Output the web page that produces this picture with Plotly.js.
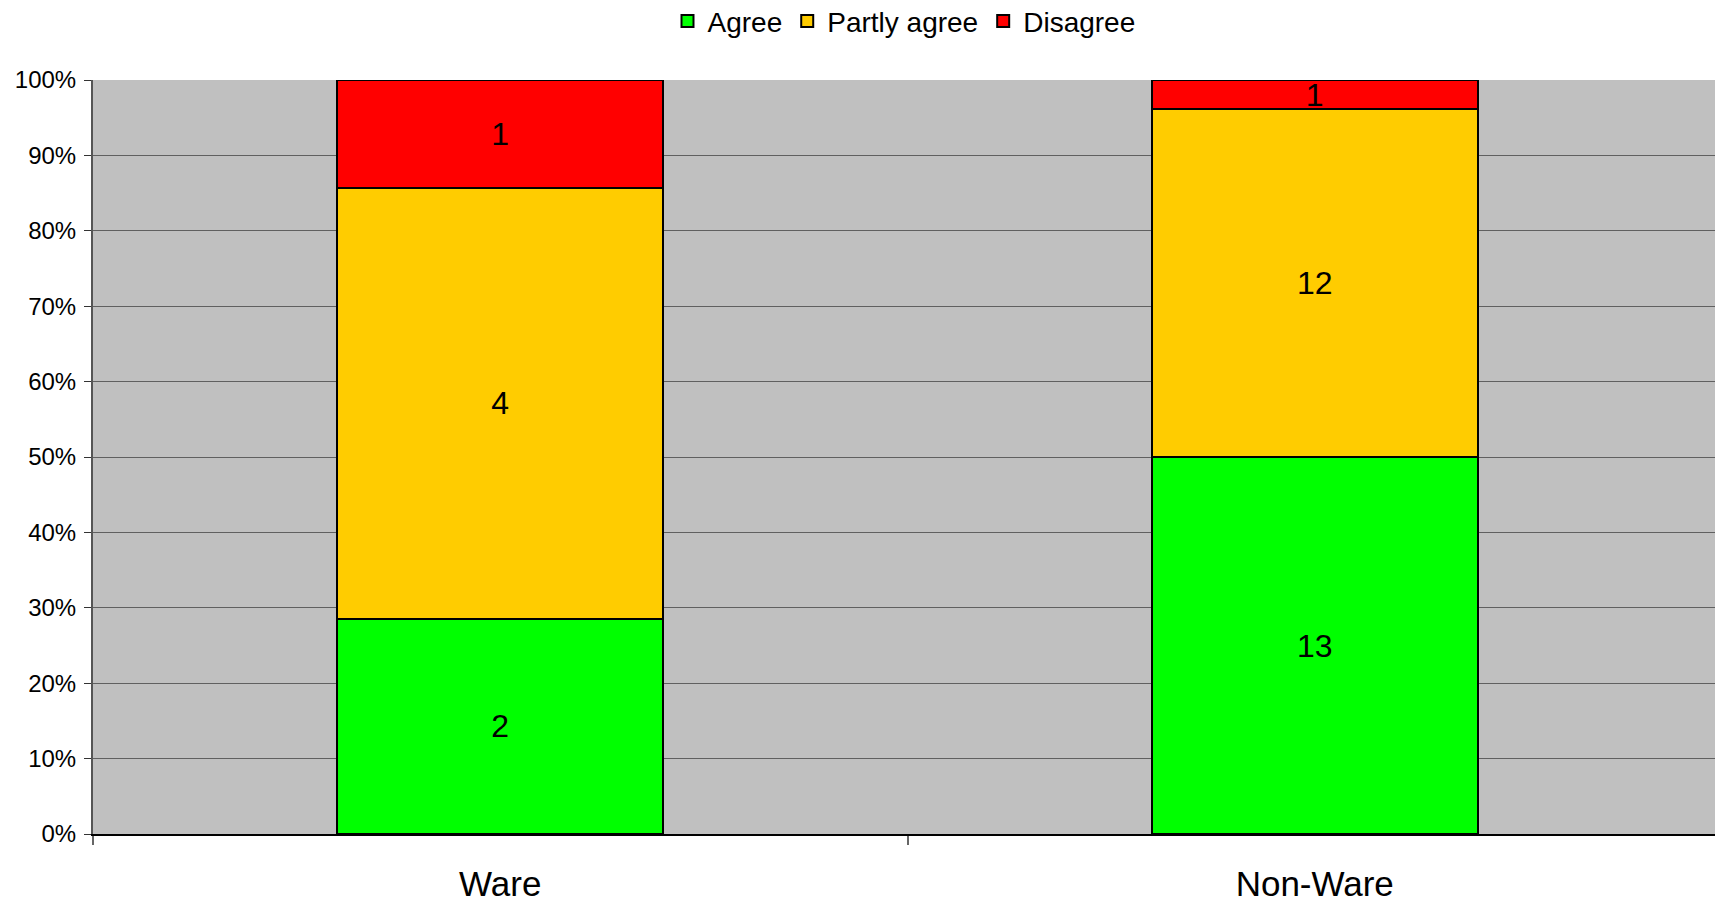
<!DOCTYPE html>
<html>
<head>
<meta charset="utf-8">
<script src="https://cdn.plot.ly/plotly-3.0.1.min.js"></script>
<style>html,body{margin:0;padding:0;background:#fff;}#chart{width:1715px;height:902px;}</style>
</head>
<body>
<div id="chart"></div>
<script>
const categories = ["Ware", "Non-Ware"];
const seriesNames = ["Agree", "Partly agree", "Disagree"];
const agree = [2, 13];
const partlyAgree = [4, 12];
const disagree = [1, 1];
const seriesColors = ["#00FF00", "#FFCC00", "#FF0000"];
const yTickVals = [0, 10, 20, 30, 40, 50, 60, 70, 80, 90, 100];

const seriesValues = [agree, partlyAgree, disagree];
const traces = seriesValues.map((vals, i) => ({
  type: "bar",
  name: seriesNames[i],
  x: categories,
  y: vals,
  text: vals.map(String),
  textposition: "inside",
  insidetextanchor: "middle",
  constraintext: "none",
  textangle: 0,
  textfont: {family: "Liberation Sans, Arial, sans-serif", size: 32, color: "#000"},
  marker: {color: seriesColors[i], line: {color: "#000", width: 2}},
  hoverinfo: "none"
}));

const layout = {
  width: 1715,
  height: 902,
  margin: {l: 93, r: 0, t: 80, b: 68, pad: 0, autoexpand: false},
  paper_bgcolor: "#FFFFFF",
  plot_bgcolor: "#C0C0C0",
  barmode: "stack",
  barnorm: "percent",
  bargap: 0.6,
  font: {family: "Liberation Sans, Arial, sans-serif", color: "#000"},
  showlegend: true,
  legend: {
    orientation: "h",
    x: 0.5, xanchor: "center",
    y: 1.078, yanchor: "middle",
    traceorder: "normal",
    font: {size: 28, color: "#000"},
    itemwidth: 30
  },
  xaxis: {
    type: "category",
    range: [-0.5, 1.4914],
    tickson: "boundaries",
    ticks: "outside",
    ticklen: 9,
    tickcolor: "#666",
    tickwidth: 2,
    ticklabelstandoff: 18,
    showline: true,
    linecolor: "#000",
    linewidth: 2,
    tickfont: {size: 35, color: "#000"},
    showgrid: false,
    zeroline: false,
    fixedrange: true
  },
  yaxis: {
    range: [0, 100],
    tickvals: yTickVals,
    ticktext: yTickVals.map(v => v + "%"),
    ticks: "outside",
    ticklen: 7,
    tickcolor: "#333",
    ticklabelstandoff: 3,
    showline: true,
    linecolor: "#555",
    linewidth: 2,
    showgrid: true,
    gridcolor: "#606060",
    gridwidth: 1,
    zeroline: false,
    tickfont: {size: 24, color: "#000"},
    fixedrange: true
  }
};

Plotly.newPlot("chart", traces, layout, {displayModeBar: false, staticPlot: true});
</script>
</body>
</html>
